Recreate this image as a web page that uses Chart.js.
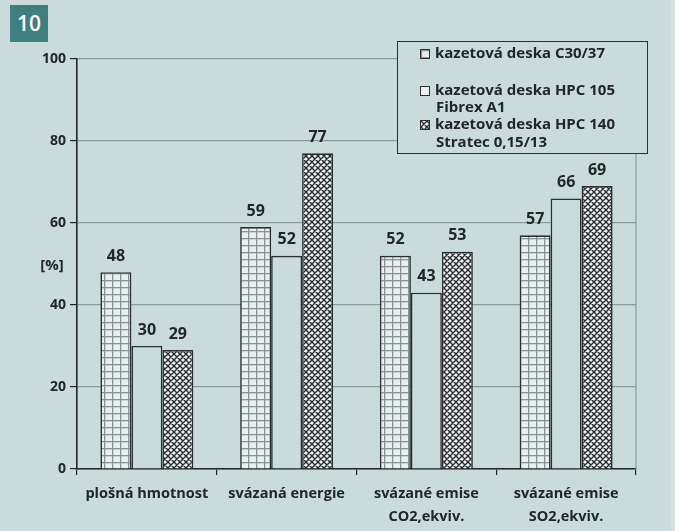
<!DOCTYPE html>
<html>
<head>
<meta charset="utf-8">
<script src="https://cdn.jsdelivr.net/npm/chart.js@4/dist/chart.umd.min.js"></script>
<style>
  html, body { margin: 0; padding: 0; background: #c9dbdb; }
  #wrap { position: relative; width: 675px; height: 531px; overflow: hidden; background: #c9dbdb; }
  #edge { position: absolute; left: 671px; top: 0; width: 4px; height: 531px; background: #d4e2e2; }
  #badge {
    position: absolute; left: 10px; top: 5px; width: 38px; height: 37px;
    background: #3f7f7e; color: #ffffff; font: 600 21px "Open Sans", "DejaVu Sans", sans-serif;
    line-height: 37px; text-align: center;
  }
  canvas { position: absolute; left: 0; top: 0; }
  #legend {
    position: absolute; left: 397px; top: 41px; width: 249px; height: 111px;
    border: 1.5px solid #2b2f30; background: #c9dbdb;
    font: bold 15px "Open Sans", "DejaVu Sans", sans-serif; color: #222628;
  }
  .item { position: absolute; left: 22px; line-height: 17.5px; white-space: nowrap; }
  .item canvas { position: static; vertical-align: -1px; margin-right: 5px; border: 1px solid #2b2f30; }
  .item .sub { padding-left: 16px; }
</style>
</head>
<body>
<div id="wrap">
  <canvas id="chart" width="675" height="531"></canvas>
  <div id="edge"></div>
  <div id="badge">10</div>
  <div id="legend"></div>
</div>
<script>
// Categories (x axis labels, multi-line)
const categories = [
  ['plošná hmotnost'],
  ['svázaná energie'],
  ['svázané emise', 'CO2,ekviv.'],
  ['svázané emise', 'SO2,ekviv.']
];
// Series names (legend lines)
const seriesNames = [
  ['kazetová deska C30/37'],
  ['kazetová deska HPC 105', 'Fibrex A1'],
  ['kazetová deska HPC 140', 'Stratec 0,15/13']
];
// Values [%]
const valuesC30 = [48, 59, 52, 57];
const valuesHPC105 = [30, 52, 43, 66];
const valuesHPC140 = [29, 77, 53, 69];
// Y axis ticks
const yTicks = [0, 20, 40, 60, 80, 100];

const BG = '#c9dbdb';
const INK = '#222628';
const FONT = '"Open Sans", "DejaVu Sans", sans-serif';

// Fill patterns
function gridPattern(ctx) {
  const c = document.createElement('canvas');
  c.width = 8; c.height = 7;
  const g = c.getContext('2d');
  g.fillStyle = '#e9efef'; g.fillRect(0, 0, 8, 7);
  g.fillStyle = '#869494';
  g.fillRect(0, 0, 8, 1.3);
  g.fillRect(0, 0, 1.3, 7);
  return ctx.createPattern(c, 'repeat');
}
function crossPattern(ctx) {
  const c = document.createElement('canvas');
  c.width = 6; c.height = 6;
  const g = c.getContext('2d');
  g.fillStyle = '#eef2f2'; g.fillRect(0, 0, 6, 6);
  g.strokeStyle = '#2a2e30'; g.lineWidth = 1.4;
  g.beginPath();
  g.moveTo(-1, -1); g.lineTo(7, 7);
  g.moveTo(7, -1); g.lineTo(-1, 7);
  g.moveTo(-1, 5); g.lineTo(1, 7);
  g.moveTo(5, -1); g.lineTo(7, 1);
  g.moveTo(5, 7); g.lineTo(7, 5);
  g.moveTo(-1, 1); g.lineTo(1, -1);
  g.stroke();
  return ctx.createPattern(c, 'repeat');
}

const canvas = document.getElementById('chart');
const ctx = canvas.getContext('2d');
const fills = [gridPattern(ctx), BG, crossPattern(ctx)];

// Value labels above bars
const valueLabels = {
  id: 'valueLabels',
  afterDatasetsDraw(chart) {
    const c = chart.ctx;
    c.save();
    c.font = 'bold 16px ' + FONT;
    c.fillStyle = INK;
    c.textAlign = 'center';
    c.textBaseline = 'middle';
    chart.data.datasets.forEach((ds, i) => {
      chart.getDatasetMeta(i).data.forEach((bar, j) => {
        c.fillText(String(ds.data[j]), bar.x, bar.y - 16);
      });
    });
    c.restore();
  }
};

// Right frame line and the unit label beside the y axis
const frame = {
  id: 'frame',
  beforeDatasetsDraw(chart) {
    const a = chart.chartArea;
    const c = chart.ctx;
    c.save();
    c.strokeStyle = '#8e9a9a';
    c.lineWidth = 1.2;
    c.beginPath();
    c.moveTo(a.right, a.top);
    c.lineTo(a.right, a.bottom);
    c.stroke();
    c.restore();
  },
  afterDraw(chart) {
    const y = chart.scales.y;
    const c = chart.ctx;
    c.save();
    c.font = 'bold 15px ' + FONT;
    c.fillStyle = INK;
    c.textAlign = 'center';
    c.textBaseline = 'middle';
    c.fillText('[%]', 52, y.getPixelForValue(49.5));
    c.restore();
  }
};

new Chart(ctx, {
  type: 'bar',
  data: {
    labels: categories,
    datasets: [
      { label: seriesNames[0].join(' '), data: valuesC30, backgroundColor: fills[0] },
      { label: seriesNames[1].join(' '), data: valuesHPC105, backgroundColor: fills[1] },
      { label: seriesNames[2].join(' '), data: valuesHPC140, backgroundColor: fills[2] }
    ].map(d => Object.assign(d, {
      borderColor: '#2a2e30', borderWidth: 1.6, borderSkipped: 'bottom',
      categoryPercentage: 0.665, barPercentage: 1.0
    }))
  },
  options: {
    responsive: false,
    animation: false,
    devicePixelRatio: 1,
    layout: { padding: { left: 0, right: 39, top: 59, bottom: 0 } },
    plugins: { legend: { display: false }, tooltip: { enabled: false } },
    scales: {
      x: {
        offset: true,
        grid: { offset: true, drawOnChartArea: false, color: INK, tickLength: 6, lineWidth: 1.2 },
        border: { color: INK, width: 1.6 },
        ticks: {
          color: INK, padding: 7,
          font: { family: FONT, size: 14.5, weight: 'bold', lineHeight: 1.6 },
          maxRotation: 0, autoSkip: false
        },
        afterFit(s) { s.height = 531 - 469; }
      },
      y: {
        min: 0, max: 100,
        afterBuildTicks(s) { s.ticks = yTicks.map(v => ({ value: v })); },
        grid: { color: '#8e9a9a', tickColor: INK, tickLength: 7, lineWidth: 1.2 },
        border: { color: INK, width: 1.6 },
        ticks: {
          color: INK, padding: 4,
          font: { family: FONT, size: 14, weight: 'bold' }
        },
        afterFit(s) { s.width = 77; }
      }
    }
  },
  plugins: [valueLabels, frame]
});

// Legend box
const legend = document.getElementById('legend');
const tops = [2, 38.5, 73];
seriesNames.forEach((lines, i) => {
  const item = document.createElement('div');
  item.className = 'item';
  item.style.top = tops[i] + 'px';
  const sw = document.createElement('canvas');
  sw.width = 8; sw.height = 8;
  const sctx = sw.getContext('2d');
  sctx.fillStyle = i === 0 ? gridPattern(sctx) : (i === 1 ? '#e9efef' : crossPattern(sctx));
  sctx.fillRect(0, 0, 8, 8);
  item.appendChild(sw);
  item.appendChild(document.createTextNode(lines[0]));
  for (let k = 1; k < lines.length; k++) {
    const sub = document.createElement('div');
    sub.className = 'sub';
    sub.textContent = lines[k];
    item.appendChild(sub);
  }
  legend.appendChild(item);
});
</script>
</body>
</html>
